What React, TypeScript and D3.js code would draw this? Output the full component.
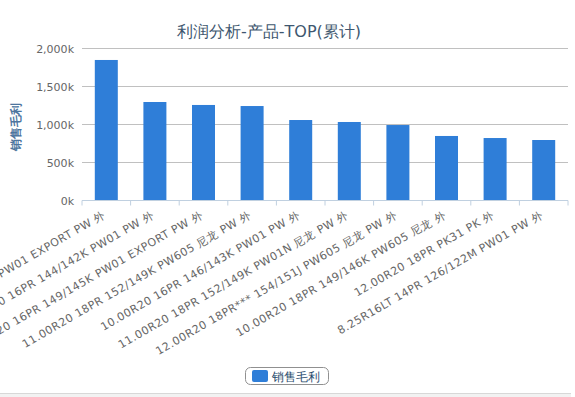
import React from 'react';
import { scaleBand, scaleLinear, format } from 'd3';

const categories = [
  '12.00R20 18PR 154/151K PW01 EXPORT PW 外',
  '10.00R20 16PR 144/142K PW01 PW 外',
  '11.00R20 16PR 149/145K PW01 EXPORT PW 外',
  '11.00R20 18PR 152/149K PW605 尼龙 PW 外',
  '10.00R20 16PR 146/143K PW01 PW 外',
  '11.00R20 18PR 152/149K PW01N 尼龙 PW 外',
  '12.00R20 18PR*** 154/151J PW605 尼龙 PW 外',
  '10.00R20 18PR 149/146K PW605 尼龙 外',
  '12.00R20 18PR PK31 PK 外',
  '8.25R16LT 14PR 126/122M PW01 PW 外',
];

// 销售毛利, in thousands
const grossProfit = [1849, 1296, 1257, 1243, 1059, 1033, 993, 849, 822, 796];

const yTicks = [0, 500, 1000, 1500, 2000];

const W = 575;
const H = 397;
const plot = { left: 82, right: 568, top: 48.5, bottom: 200.5 };
const font = '"DejaVu Sans", Verdana, sans-serif';
const barColor = '#2f7ed8';

const App: React.FC = () => {
  const x = scaleBand<string>()
    .domain(categories)
    .range([plot.left, plot.right]);
  const y = scaleLinear().domain([0, 2000]).range([plot.bottom, plot.top]);
  const fmt = format(',');
  const barW = 23;

  return (
    <svg
      width={W}
      height={H}
      style={{ position: 'absolute', left: 0, top: 0, background: '#fff' }}
      fontFamily={font}
    >
      {/* title */}
      <text x={269} y={37} textAnchor="middle" fontSize={16} fill="#3e576f">
        利润分析-产品-TOP(累计)
      </text>

      {/* grid + y labels */}
      {yTicks.map((t) => (
        <g key={t}>
          {t > 0 && (
            <line x1={plot.left} x2={plot.right} y1={y(t)} y2={y(t)} stroke="#c0c0c0" strokeWidth={1} />
          )}
          <text x={74} y={y(t) + 4} textAnchor="end" fontSize={11} fill="#666">
            {fmt(t)}k
          </text>
        </g>
      ))}

      {/* y-axis title */}
      <text
        transform={`translate(20,${(plot.top + plot.bottom) / 2 + 2}) rotate(-90)`}
        textAnchor="middle"
        fontSize={12}
        fontWeight="bold"
        fill="#4d759e"
      >
        销售毛利
      </text>

      {/* bars */}
      {categories.map((c, i) => (
        <rect
          key={c}
          x={x(c)! + x.bandwidth() / 2 - barW / 2}
          y={y(grossProfit[i])}
          width={barW}
          height={plot.bottom - y(grossProfit[i])}
          fill={barColor}
        />
      ))}

      {/* x axis */}
      <line x1={plot.left} x2={plot.right} y1={plot.bottom} y2={plot.bottom} stroke="#c0d0e0" strokeWidth={1} />
      {categories.map((c) => (
        <line key={'t' + c} x1={x(c)!} x2={x(c)!} y1={plot.bottom} y2={plot.bottom + 5} stroke="#c0d0e0" />
      ))}
      <line x1={plot.right} x2={plot.right} y1={plot.bottom} y2={plot.bottom + 5} stroke="#c0d0e0" />
      {categories.map((c) => (
        <text
          key={'l' + c}
          transform={`translate(${x(c)! + x.bandwidth() / 2},217) rotate(-30)`}
          textAnchor="end"
          fontSize={11}
          letterSpacing={0.5}
          fill="#666"
        >
          {c}
        </text>
      ))}

      {/* legend */}
      <rect x={245.5} y={367.5} width={83} height={17} rx={5} fill="#fff" stroke="#909090" />
      <rect x={252} y={370} width={16} height={12} rx={2} fill={barColor} />
      <text x={272} y={381} fontSize={12} fill="#274b6d">
        销售毛利
      </text>

      {/* bottom strip */}
      <rect x={0} y={393.5} width={571} height={4} fill="#f2f2f2" />
      <line x1={0} x2={571} y1={393.5} y2={393.5} stroke="#d8d8d8" />
    </svg>
  );
};

export default App;
